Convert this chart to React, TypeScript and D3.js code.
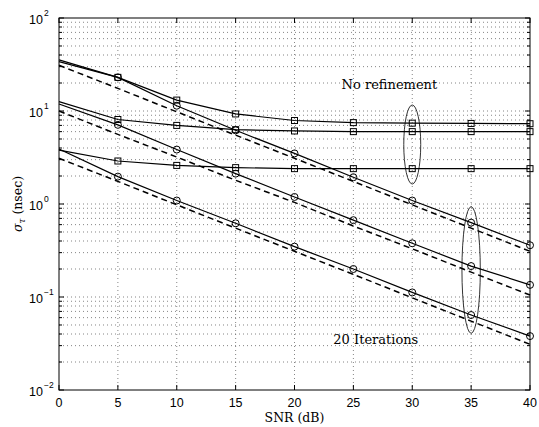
import React from 'react'
import * as d3 from 'd3'

// SNR sweep (dB)
const snr = [0, 5, 10, 15, 20, 25, 30, 35, 40]

// no refinement (squares)
const noRefTop = [34, 23, 13.1, 9.3, 7.9, 7.5, 7.4, 7.35, 7.3]
const noRefMid = [12.6, 8.1, 7.0, 6.3, 6.1, 6.0, 6.0, 6.0, 6.0]
const noRefLow = [3.8, 2.9, 2.6, 2.46, 2.4, 2.4, 2.4, 2.4, 2.4]

// 20 iterations (circles)
const iterTop = [35.5, 23, 11.4, 6.2, 3.5, 1.94, 1.09, 0.63, 0.36]
const iterMid = [11.9, 7.1, 3.85, 2.12, 1.19, 0.67, 0.378, 0.215, 0.135]
const iterLow = [3.9, 1.97, 1.09, 0.62, 0.348, 0.2, 0.112, 0.064, 0.038]

// bounds (dashed)
const crbTop = [31, 17.5, 9.8, 5.5, 3.1, 1.75, 0.98, 0.55, 0.31]
const crbMid = [10, 5.6, 3.2, 1.8, 1.04, 0.58, 0.33, 0.185, 0.105]
const crbLow = [3.1, 1.75, 0.98, 0.55, 0.31, 0.175, 0.098, 0.055, 0.031]

const xTicks = [0, 5, 10, 15, 20, 25, 30, 35, 40]
const yExponents = [-2, -1, 0, 1, 2]

const W = 539
const H = 427
const left = 59
const right = 530
const top = 18
const bottom = 390

const serif = "'DejaVu Serif', serif"
const sans = "'Liberation Sans', Arial, sans-serif"

const App = () => {
  const x = d3.scaleLinear().domain([0, 40]).range([left, right])
  const y = d3.scaleLog().domain([0.01, 100]).range([bottom, top])

  const line = d3
    .line<number>()
    .x((_, i) => x(snr[i]))
    .y((v) => y(v))

  // minor log grid values (2..9 x 10^k)
  const minor: number[] = []
  for (let e = -2; e < 2; e++) {
    for (let k = 2; k <= 9; k++) minor.push(k * Math.pow(10, e))
  }

  const squares = [noRefTop, noRefMid, noRefLow]
  const circles = [iterTop, iterMid, iterLow]
  const dashed = [crbTop, crbMid, crbLow]

  const gridStyle = { stroke: '#666', strokeWidth: 0.8, strokeDasharray: '1 3' }

  return (
    <svg width={W} height={H} style={{ position: 'absolute', left: 0, top: 0, background: '#fff' }}>
      <rect x={0} y={0} width={W} height={H} fill="#fff" />
      {/* grid */}
      {xTicks.slice(1, -1).map((t) => (
        <line key={`gx${t}`} x1={x(t)} x2={x(t)} y1={top} y2={bottom} {...gridStyle} />
      ))}
      {minor.concat([0.1, 1, 10]).map((v, i) => (
        <line key={`gy${i}`} x1={left} x2={right} y1={y(v)} y2={y(v)} {...gridStyle} />
      ))}

      {/* bounds */}
      {dashed.map((d, i) => (
        <path key={`d${i}`} d={line(d) || ''} fill="none" stroke="#000" strokeWidth={1.5} strokeDasharray="6 4" />
      ))}
      {/* no refinement */}
      {squares.map((d, i) => (
        <g key={`s${i}`}>
          <path d={line(d) || ''} fill="none" stroke="#000" strokeWidth={1.2} />
          {d.slice(1).map((v, j) => (
            <rect
              key={j}
              x={x(snr[j + 1]) - 3}
              y={y(v) - 3}
              width={6}
              height={6}
              fill="none"
              stroke="#000"
              strokeWidth={1}
            />
          ))}
        </g>
      ))}
      {/* 20 iterations */}
      {circles.map((d, i) => (
        <g key={`c${i}`}>
          <path d={line(d) || ''} fill="none" stroke="#000" strokeWidth={1.2} />
          {d.slice(1).map((v, j) => (
            <circle key={j} cx={x(snr[j + 1])} cy={y(v)} r={3.5} fill="none" stroke="#000" strokeWidth={1} />
          ))}
        </g>
      ))}

      {/* annotation ellipses */}
      <ellipse
        cx={x(30)}
        cy={(y(11.6) + y(1.64)) / 2}
        rx={x(30.72) - x(30)}
        ry={(y(1.64) - y(11.6)) / 2}
        fill="none"
        stroke="#000"
        strokeWidth={0.8}
      />
      <ellipse
        cx={x(35)}
        cy={(y(0.935) + y(0.0407)) / 2}
        rx={x(35.78) - x(35)}
        ry={(y(0.0407) - y(0.935)) / 2}
        fill="none"
        stroke="#000"
        strokeWidth={0.8}
      />
      <text x={x(24)} y={y(17.3)} fontFamily={serif} fontSize={13} fill="#000">
        No refinement
      </text>
      <text x={x(23.3)} y={y(0.031)} fontFamily={serif} fontSize={13} fill="#000">
        20 Iterations
      </text>

      {/* axes box */}
      <rect x={left} y={top} width={right - left} height={bottom - top} fill="none" stroke="#000" strokeWidth={1} />
      {xTicks.map((t) => (
        <g key={`xt${t}`}>
          <line x1={x(t)} x2={x(t)} y1={bottom} y2={bottom - 5} stroke="#000" />
          <line x1={x(t)} x2={x(t)} y1={top} y2={top + 5} stroke="#000" />
          <text x={x(t)} y={bottom + 17} textAnchor="middle" fontFamily={sans} fontSize={12.5}>
            {t}
          </text>
        </g>
      ))}
      {minor.map((v, i) => (
        <g key={`ym${i}`}>
          <line x1={left} x2={left + 3} y1={y(v)} y2={y(v)} stroke="#000" />
          <line x1={right} x2={right - 3} y1={y(v)} y2={y(v)} stroke="#000" />
        </g>
      ))}
      {yExponents.map((e) => {
        const v = Math.pow(10, e)
        return (
          <g key={`ye${e}`}>
            <line x1={left} x2={left + 5} y1={y(v)} y2={y(v)} stroke="#000" />
            <line x1={right} x2={right - 5} y1={y(v)} y2={y(v)} stroke="#000" />
            <text x={left - 16} y={y(v) + 6} textAnchor="end" fontFamily={sans} fontSize={12.5}>
              10
            </text>
            <text x={left - 15} y={y(v) - 2} textAnchor="start" fontFamily={sans} fontSize={8.5}>
              {e < 0 ? `\u2212${-e}` : `${e}`}
            </text>
          </g>
        )
      })}

      <text x={(left + right) / 2} y={H - 5} textAnchor="middle" fontFamily={serif} fontSize={12.5}>
        SNR (dB)
      </text>
      <text
        transform={`translate(${22},${(top + bottom) / 2}) rotate(-90)`}
        textAnchor="middle"
        fontFamily={serif}
        fontSize={12.5}
      >
        <tspan fontStyle="italic">σ</tspan>
        <tspan fontStyle="italic" fontSize={9} dy={3}>τ</tspan>
        <tspan dy={-3}> (nsec)</tspan>
      </text>
    </svg>
  )
}

export default App
